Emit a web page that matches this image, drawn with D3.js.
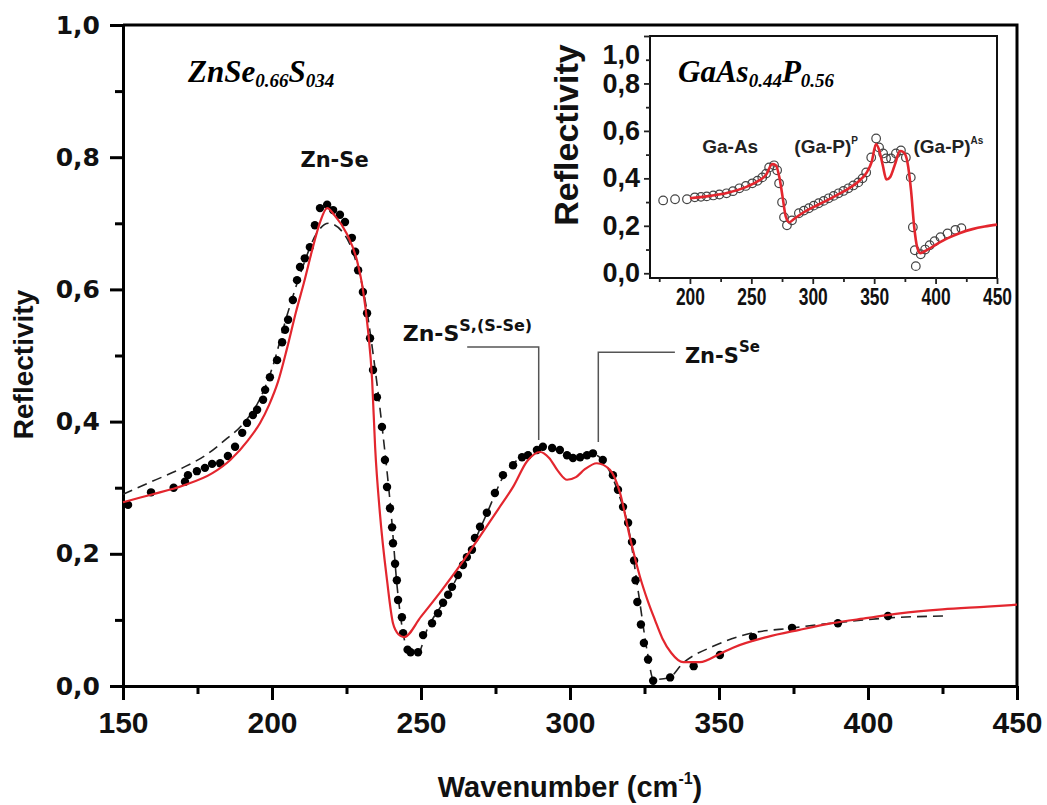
<!DOCTYPE html>
<html>
<head>
<meta charset="utf-8">
<script src="https://cdn.jsdelivr.net/npm/d3@7"></script>
<style>
  html, body { margin: 0; padding: 0; background: #fff; }
  svg { display: block; }
</style>
</head>
<body>
<svg id="chart" width="1047" height="805"></svg>
<script>
// ---------------- Main chart data (ZnSe0.66S0.34) ----------------
const mainXTicks = [150, 200, 250, 300, 350, 400, 450];
const mainXMinor = [175, 225, 275, 325, 375, 425];
const mainYTicks = [0, 0.2, 0.4, 0.6, 0.8, 1.0];
const mainYMinor = [0.1, 0.3, 0.5, 0.7, 0.9];

// experimental points (black dots)
const expX = [151.7,159.4,167,170.8,171.8,174.8,177.5,179.9,182.6,185.2,187.6,190,191.6,193.6,195,197,197.7,199.3,201.7,203.4,204.4,205.4,207,208.4,209.4,211,212.7,214.4,216.1,218.5,220.5,222.8,224.5,226.8,227.9,228.9,230.5,231.9,232.9,233.9,235.2,236.9,237.9,238.6,239.6,240.3,240.6,241.3,241.9,242.3,243.6,244.0,245.5,246.5,249,250.7,253.7,255.7,257.4,259.1,260.4,262.4,264.1,265.4,267.1,268.1,269.8,272.1,274.8,277.5,280.9,283.9,285.9,288.9,290.9,294,296.6,299,301,303.4,305.7,307.7,311,314.4,316.1,317.8,319.5,320.8,321.5,322,322.6,323.8,324.8,326.2,327.9,333.6,341.5,350.3,361.4,374.5,389.9,406.7];
const expY = [0.274,0.293,0.300,0.309,0.319,0.325,0.330,0.336,0.337,0.348,0.362,0.383,0.398,0.410,0.418,0.433,0.448,0.467,0.493,0.520,0.539,0.554,0.584,0.614,0.634,0.647,0.664,0.697,0.723,0.728,0.720,0.713,0.702,0.678,0.657,0.629,0.596,0.564,0.526,0.478,0.437,0.392,0.342,0.301,0.269,0.240,0.216,0.185,0.160,0.130,0.104,0.080,0.055,0.051,0.051,0.077,0.095,0.110,0.126,0.138,0.150,0.168,0.183,0.195,0.206,0.224,0.241,0.262,0.292,0.319,0.334,0.346,0.349,0.357,0.362,0.360,0.357,0.349,0.345,0.346,0.349,0.352,0.342,0.319,0.297,0.271,0.247,0.218,0.190,0.160,0.127,0.093,0.065,0.040,0.008,0.013,0.030,0.047,0.074,0.088,0.095,0.106];

// dashed curve
const dashX = [150,160,170,178,185,190,196,200,205,210,215,219,224,228,231,234,237,240,242,244,246,249,252,258,265,272,278,285,291,297,302,308,312,316,320,323,326,328,333,338,348,359,375,390,407,427];
const dashY = [0.290,0.310,0.330,0.350,0.375,0.395,0.435,0.480,0.560,0.630,0.685,0.700,0.685,0.645,0.590,0.500,0.390,0.260,0.150,0.080,0.050,0.050,0.085,0.130,0.190,0.260,0.320,0.350,0.360,0.355,0.345,0.350,0.335,0.295,0.230,0.140,0.050,0.010,0.012,0.035,0.060,0.078,0.088,0.096,0.103,0.106];

// red fit
const fitX = [150,160,170,180,186,192,196,199,202,205,208,211,213.5,216,218.5,221,225,228.5,230.5,232.2,233.6,234.6,236.2,238.6,240.6,242.5,244.3,250,257,264,270,276,281,285.6,290,293,296,299,302,305,309,313.4,316.8,320.1,323.5,326,328.5,331,334,338,343.6,350,354.7,366,377,388,400,410.7,425,440,450];
const fitY = [0.278,0.290,0.303,0.322,0.342,0.372,0.398,0.425,0.460,0.510,0.565,0.615,0.660,0.700,0.723,0.712,0.685,0.644,0.600,0.539,0.463,0.362,0.262,0.160,0.095,0.078,0.074,0.105,0.145,0.188,0.228,0.268,0.302,0.340,0.354,0.345,0.325,0.312,0.316,0.328,0.337,0.327,0.292,0.225,0.165,0.130,0.100,0.072,0.050,0.036,0.036,0.048,0.058,0.074,0.085,0.095,0.103,0.110,0.116,0.120,0.123];

// mode annotations (wavenumber of the mode, leader heights in reflectivity units)
const modeLabels = ["Zn-S", "Zn-S"];
const modeSups = ["S,(S-Se)", "Se"];
const modeX = [289.5, 309.5];
const modeLineEndX = [265.5, 335.2];
const modeLineLow = [0.372, 0.369];
const modeLineHigh = [0.513, 0.505];

// ---------------- Inset data (GaAs0.44P0.56) ----------------
const insetXTicks = [200, 250, 300, 350, 400, 450];
const insetXMinor = [175, 225, 275, 325, 375, 425];
const insetYTicks = [0, 0.2, 0.4, 0.6, 0.8, 1.0];
const insetYMinor = [0.1, 0.3, 0.5, 0.7, 0.9];

const inExpX = [178.2,187.9,197.6,204,209,213.7,219,224,229.8,235,240.3,245.5,250.8,255,258.9,262,264.5,268.5,271,272.6,275,276.6,279,283.1,288.7,292.8,296.8,300.8,304.8,308.9,312.9,317,321,325,329,333,337.1,340.5,343.5,347.6,351.6,354,357.3,359.7,363.7,367.7,371.8,375.8,379.8,381.5,383.1,383.9,387.9,391.5,395.2,399.2,404,409.7,416.1,421];
const inExpY = [0.307,0.312,0.312,0.320,0.322,0.324,0.328,0.332,0.337,0.346,0.358,0.368,0.379,0.390,0.404,0.420,0.446,0.455,0.434,0.379,0.299,0.236,0.202,0.223,0.253,0.264,0.274,0.285,0.295,0.305,0.316,0.326,0.337,0.347,0.358,0.370,0.383,0.400,0.425,0.488,0.568,0.530,0.505,0.484,0.484,0.505,0.518,0.488,0.404,0.194,0.097,0.030,0.080,0.100,0.118,0.135,0.152,0.168,0.183,0.190];

const inFitX = [200,215,230,245,255,262,267,270,273,275.5,278,281,285,292,300,310,320,330,338,344,348,351.5,354,357,360,363,367,371,374,377,380,382.5,385,387.5,392,400,410,420,430,440,450];
const inFitY = [0.316,0.325,0.338,0.362,0.387,0.415,0.460,0.455,0.400,0.320,0.240,0.215,0.230,0.255,0.278,0.303,0.330,0.360,0.390,0.425,0.470,0.545,0.520,0.455,0.395,0.405,0.460,0.515,0.510,0.470,0.350,0.200,0.110,0.085,0.095,0.120,0.148,0.170,0.186,0.197,0.205];

const insetBandLabels = ["Ga-As", "(Ga-P)", "(Ga-P)"];
const insetBandSups = ["", "P", "As"];
const insetBandX = [210, 285, 382];

// ---------------- Drawing ----------------
const svg = d3.select("#chart");
const SANS = "'Liberation Sans', Arial, sans-serif";
const WIDE = "'DejaVu Sans', sans-serif";
const SERIF = "'Liberation Serif', 'Times New Roman', serif";
const RED = "#e3262e";

const x = d3.scaleLinear().domain([150, 450]).range([123, 1017]);
const y = d3.scaleLinear().domain([0, 1]).range([686, 25]);
const fmt = d => d3.format(".1f")(d).replace(".", ",");

// frame top & right
svg.append("path")
  .attr("d", `M${x(150)},${y(1)}H${x(450)}V${y(0)}`)
  .attr("fill", "none").attr("stroke", "#000").attr("stroke-width", 3);

// axes
const gx = svg.append("g").attr("transform", `translate(0,${y(0)})`)
  .call(d3.axisBottom(x).tickValues(mainXTicks).tickSize(14).tickSizeOuter(0).tickPadding(12).tickFormat(d3.format("d")));
const gxm = svg.append("g").attr("transform", `translate(0,${y(0)})`)
  .call(d3.axisBottom(x).tickValues(mainXMinor).tickSize(8).tickSizeOuter(0).tickFormat(""));
const gy = svg.append("g").attr("transform", `translate(${x(150)},0)`)
  .call(d3.axisLeft(y).tickValues(mainYTicks).tickSize(13).tickSizeOuter(0).tickPadding(10).tickFormat(fmt));
const gym = svg.append("g").attr("transform", `translate(${x(150)},0)`)
  .call(d3.axisLeft(y).tickValues(mainYMinor).tickSize(8).tickSizeOuter(0).tickFormat(""));
[gx, gxm, gy, gym].forEach(g => {
  g.selectAll("path.domain").attr("stroke-width", 3).attr("stroke", "#000");
  g.selectAll(".tick line").attr("stroke-width", 3).attr("stroke", "#000");
});
gx.selectAll(".tick text")
  .attr("font-family", SANS).attr("font-weight", "bold").attr("font-size", 30).attr("fill", "#111");
gy.selectAll(".tick text")
  .attr("font-family", WIDE).attr("font-weight", "bold").attr("font-size", 25).attr("fill", "#111");
gxm.selectAll("path.domain").remove();
gym.selectAll("path.domain").remove();

// axis titles
svg.append("text")
  .attr("transform", `translate(33,${(y(0) + y(1)) / 2 + 9}) rotate(-90)`)
  .attr("text-anchor", "middle")
  .attr("font-family", SANS).attr("font-weight", "bold").attr("font-size", 28).attr("fill", "#111")
  .text("Reflectivity");
const xt = svg.append("text")
  .attr("x", x(300)).attr("y", 797).attr("text-anchor", "middle")
  .attr("font-family", SANS).attr("font-weight", "bold").attr("font-size", 29).attr("fill", "#111");
xt.append("tspan").text("Wavenumber (cm");
xt.append("tspan").attr("font-size", 16).attr("dy", -13).text("-1");
xt.append("tspan").attr("dy", 13).text(")");

// curves
const expPts = expX.map((v, i) => [v, expY[i]]);
const dashPts = dashX.map((v, i) => [v, dashY[i]]);
const fitPts = fitX.map((v, i) => [v, fitY[i]]);
const line = d3.line().x(d => x(d[0])).y(d => y(d[1])).curve(d3.curveMonotoneX);

svg.append("path").attr("d", line(dashPts))
  .attr("fill", "none").attr("stroke", "#222").attr("stroke-width", 1.6).attr("stroke-dasharray", "10,6");
svg.append("g").selectAll("circle").data(expPts).join("circle")
  .attr("cx", d => x(d[0])).attr("cy", d => y(d[1])).attr("r", 4.2).attr("fill", "#000");
svg.append("path").attr("d", line(fitPts))
  .attr("fill", "none").attr("stroke", RED).attr("stroke-width", 2.2);

// mode annotations
modeX.forEach((mx, i) => {
  svg.append("path")
    .attr("d", `M${x(modeLineEndX[i])},${y(modeLineHigh[i])}H${x(mx)}V${y(modeLineLow[i])}`)
    .attr("fill", "none").attr("stroke", "#555").attr("stroke-width", 1.5);
});
const m1 = svg.append("text").attr("x", x(modeX[0]) - 136).attr("y", y(modeLineHigh[0]) - 6)
  .attr("font-family", WIDE).attr("font-weight", "bold").attr("font-size", 22).attr("fill", "#111");
m1.append("tspan").text(modeLabels[0]);
m1.append("tspan").attr("font-size", 16).attr("dy", -10).text(modeSups[0]);
const m2 = svg.append("text").attr("x", x(modeLineEndX[1]) + 10).attr("y", y(modeLineHigh[1]) + 11)
  .attr("font-family", WIDE).attr("font-weight", "bold").attr("font-size", 21).attr("fill", "#111");
m2.append("tspan").text(modeLabels[1]);
m2.append("tspan").attr("font-size", 15).attr("dy", -11).text(modeSups[1]);

svg.append("text").attr("x", x(221)).attr("y", 167).attr("text-anchor", "middle")
  .attr("font-family", WIDE).attr("font-weight", "bold").attr("font-size", 21).attr("fill", "#111")
  .text("Zn-Se");

// main title
const t1 = svg.append("text").attr("x", 188).attr("y", 82)
  .attr("font-family", SERIF).attr("font-weight", "bold").attr("font-style", "italic").attr("font-size", 31).attr("fill", "#000");
t1.append("tspan").text("ZnSe");
t1.append("tspan").attr("font-size", 19).attr("dy", 5).text("0.66");
t1.append("tspan").attr("dy", -5).text("S");
t1.append("tspan").attr("font-size", 19).attr("dy", 5).text("034");

// ---------------- Inset ----------------
const xi = d3.scaleLinear().domain([167.5, 450]).range([650, 997]);
const yi = d3.scaleLinear().domain([-0.02, 1.0]).range([278, 36]);

svg.append("rect").attr("x", xi(167.5)).attr("y", yi(1)).attr("width", xi(450) - xi(167.5)).attr("height", yi(-0.02) - yi(1))
  .attr("fill", "#fff").attr("stroke", "#111").attr("stroke-width", 2);

const gxi = svg.append("g").attr("transform", `translate(0,${yi(-0.02)})`)
  .call(d3.axisBottom(xi).tickValues(insetXTicks).tickSize(6).tickSizeOuter(0).tickPadding(4).tickFormat(d3.format("d")));
const gxim = svg.append("g").attr("transform", `translate(0,${yi(-0.02)})`)
  .call(d3.axisBottom(xi).tickValues(insetXMinor).tickSize(4).tickSizeOuter(0).tickFormat(""));
const gyi = svg.append("g").attr("transform", `translate(${xi(167.5)},0)`)
  .call(d3.axisLeft(yi).tickValues(insetYTicks).tickSize(6).tickSizeOuter(0).tickPadding(4).tickFormat(fmt));
const gyim = svg.append("g").attr("transform", `translate(${xi(167.5)},0)`)
  .call(d3.axisLeft(yi).tickValues(insetYMinor).tickSize(4).tickSizeOuter(0).tickFormat(""));
[gxi, gxim, gyi, gyim].forEach(g => {
  g.selectAll("path.domain").remove();
  g.selectAll(".tick line").attr("stroke-width", 1.8).attr("stroke", "#222");
});
gxi.selectAll(".tick text")
  .attr("font-family", SANS).attr("font-weight", "bold").attr("font-size", 24).attr("fill", "#111")
  .attr("textLength", 29).attr("lengthAdjust", "spacingAndGlyphs");
gyi.selectAll(".tick text")
  .attr("font-family", SANS).attr("font-weight", "bold").attr("font-size", 27).attr("fill", "#111");
gyi.selectAll(".tick").filter(d => d === 1).select("text").attr("dy", "1.0em");

svg.append("text")
  .attr("transform", `translate(578,${(yi(-0.02) + yi(1)) / 2 - 22}) rotate(-90)`)
  .attr("text-anchor", "middle")
  .attr("font-family", SANS).attr("font-weight", "bold").attr("font-size", 34).attr("fill", "#111")
  .text("Reflectivity");

const inExpPts = inExpX.map((v, i) => [v, inExpY[i]]);
const inFitPts = inFitX.map((v, i) => [v, inFitY[i]]);
const iline = d3.line().x(d => xi(d[0])).y(d => yi(d[1])).curve(d3.curveMonotoneX);

svg.append("g").selectAll("circle").data(inExpPts).join("circle")
  .attr("cx", d => xi(d[0])).attr("cy", d => yi(d[1])).attr("r", 4.3)
  .attr("fill", "none").attr("stroke", "#444").attr("stroke-width", 1.2);
svg.append("path").attr("d", iline(inFitPts))
  .attr("fill", "none").attr("stroke", RED).attr("stroke-width", 2.6);

insetBandLabels.forEach((lab, i) => {
  const t = svg.append("text").attr("x", xi(insetBandX[i])).attr("y", 153)
    .attr("font-family", SANS).attr("font-weight", "bold").attr("font-size", 19).attr("fill", "#222");
  t.append("tspan").text(lab);
  if (insetBandSups[i]) t.append("tspan").attr("font-size", 10).attr("dy", -9).text(insetBandSups[i]);
});

const t2 = svg.append("text").attr("x", 678).attr("y", 82)
  .attr("font-family", SERIF).attr("font-weight", "bold").attr("font-style", "italic").attr("font-size", 31).attr("fill", "#000");
t2.append("tspan").text("GaAs");
t2.append("tspan").attr("font-size", 19).attr("dy", 5).text("0.44");
t2.append("tspan").attr("dy", -5).text("P");
t2.append("tspan").attr("font-size", 19).attr("dy", 5).text("0.56");
</script>
</body>
</html>
